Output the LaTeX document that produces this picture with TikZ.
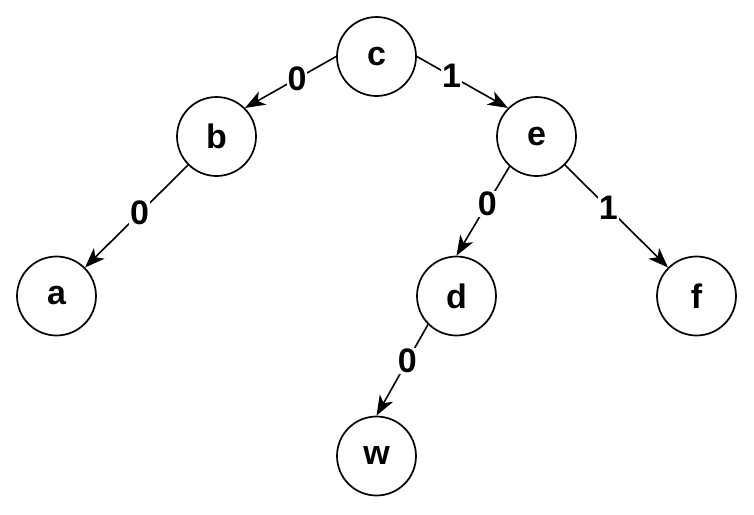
\documentclass[tikz,border=0pt]{standalone}
\usepackage{fontspec}
\setmainfont{Liberation Sans}
\usetikzlibrary{arrows.meta}
\newcommand{\nodefont}{\fontsize{34}{38}\selectfont\bfseries}
\begin{document}
\begin{tikzpicture}[x=1pt,y=-1pt,
  tnode/.style={circle,draw=black,line width=1.7pt,minimum size=79pt,inner sep=0pt,
    font=\nodefont},
  edge/.style={line width=1.6pt,-{Stealth[length=20pt,width=15pt,inset=5.5pt]}},
  lbl/.style={fill=white,inner sep=1pt,font=\nodefont}]
\useasboundingbox (0,0) rectangle (754,514);
\fill[white] (0,0) rectangle (754,514);
\node[tnode] (c) at (376.5,56.5) {c};
\node[tnode] (b) at (216.5,136.5) {b};
\node[tnode] (e) at (536.5,136.5) {e};
\node[tnode] (a) at (56.5,296) {a};
\node[tnode] (d) at (456.5,296) {d};
\node[tnode] (f) at (696.5,296) {f};
\node[tnode] (w) at (376.5,456) {w};
\draw[edge] (c.west) -- node[lbl,pos=0.43] {0} (b.north east);
\draw[edge] (c.east) -- node[lbl,pos=0.38] {1} (e.north west);
\draw[edge] (b.south west) -- node[lbl,pos=0.47] {0} (a.north east);
\draw[edge] (e.228) -- node[lbl,pos=0.42] {0} (d.north);
\draw[edge] (e.south east) -- node[lbl,pos=0.42] {1} (f.north west);
\draw[edge] (d.south west) -- node[lbl,pos=0.4] {0} (w.north);
\end{tikzpicture}
\end{document}
